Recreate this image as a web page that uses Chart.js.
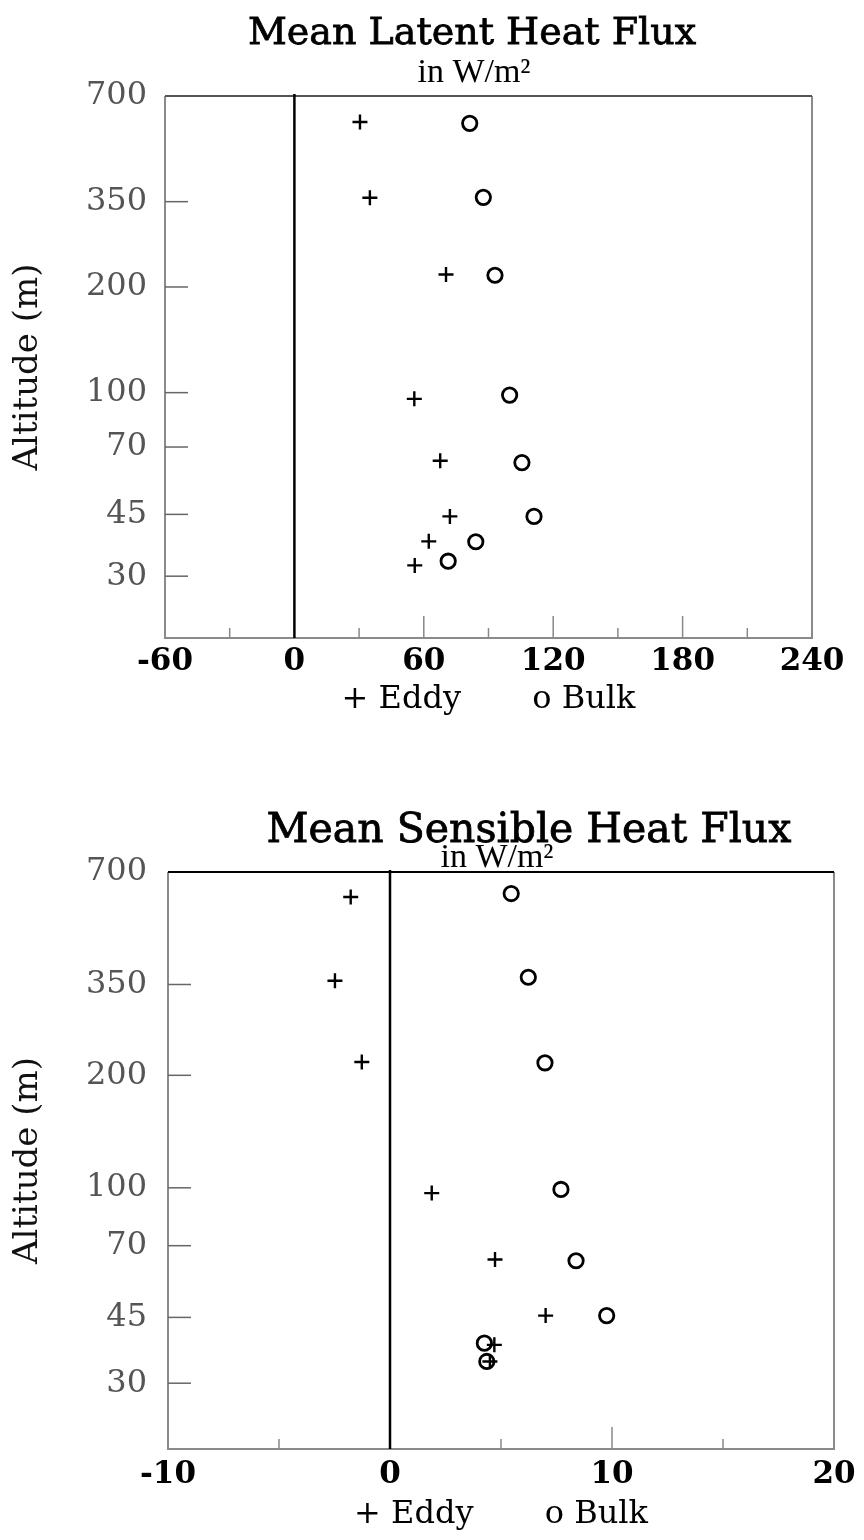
<!DOCTYPE html>
<html><head><meta charset="utf-8">
<script src="https://cdn.jsdelivr.net/npm/chart.js@4.4.1/dist/chart.umd.min.js"></script>
<style>
html,body{margin:0;padding:0;background:#fff;overflow:hidden;}
#wrap{position:relative;width:864px;height:1540px;background:#fff;}
canvas{position:absolute;left:0;}
#c1{top:0;} #c2{top:740px;}
</style></head><body>
<div id="wrap">
<canvas id="c1" width="864" height="740"></canvas>
<canvas id="c2" width="864" height="800"></canvas>
</div>
<script>
// ---- tick labels ----
const altitudeTicks = [30, 45, 70, 100, 200, 350, 700];
const latentFluxTicks = [-60, 0, 60, 120, 180, 240];
const latentMinorTicks = [-30, 30, 90, 150, 210];
const sensibleFluxTicks = [-10, 0, 10, 20];
const sensibleMinorTicks = [-5, 5, 15];

// ---- Mean Latent Heat Flux (W/m2) ----
const latentEddyAlt  = [590, 359, 217, 96, 64, 44.4, 37.7, 32.2];
const latentEddyFlux = [30.4, 35.0, 70.3, 55.6, 67.6, 72.1, 62.3, 55.8];
const latentBulkAlt  = [585, 360, 216, 98.4, 63.2, 44.4, 37.6, 33.1];
const latentBulkFlux = [81.3, 87.6, 93.0, 99.8, 105.5, 111.1, 84.1, 71.3];

// ---- Mean Sensible Heat Flux (W/m2) ----
const sensibleEddyAlt  = [600, 358, 217, 96.8, 64.3, 45.5, 38.0, 34.3];
const sensibleEddyFlux = [-1.77, -2.48, -1.27, 1.88, 4.73, 7.01, 4.70, 4.50];
const sensibleBulkAlt  = [613, 366, 216, 99, 63.8, 45.5, 38.4, 34.3];
const sensibleBulkFlux = [5.46, 6.23, 6.98, 7.70, 8.38, 9.76, 4.25, 4.36];

Chart.defaults.font.family = "'DejaVu Serif', serif";
Chart.defaults.color = '#000';

const toPts = (xs, ys) => xs.map((x, i) => ({x: x, y: ys[i]}));

const decor = {
  id: 'decor',
  beforeDatasetsDraw(chart, args, o) {
    const ctx = chart.ctx, a = chart.chartArea;
    const xs = chart.scales.x, ys = chart.scales.y;
    ctx.save();
    // frame
    ctx.lineWidth = 2;
    ctx.strokeStyle = '#8a8a8a';
    ctx.beginPath();
    ctx.moveTo(a.left, a.top); ctx.lineTo(a.left, a.bottom);
    ctx.lineTo(a.right, a.bottom); ctx.lineTo(a.right, a.top);
    ctx.stroke();
    ctx.strokeStyle = o.topColor;
    ctx.beginPath(); ctx.moveTo(a.left, a.top); ctx.lineTo(a.right, a.top); ctx.stroke();
    // inward y ticks
    ctx.strokeStyle = '#666'; ctx.lineWidth = 1.5;
    altitudeTicks.forEach(v => {
      if (v >= ys.max) return;
      const y = ys.getPixelForValue(v);
      ctx.beginPath(); ctx.moveTo(a.left, y); ctx.lineTo(a.left + 23, y); ctx.stroke();
    });
    // inward x ticks
    ctx.strokeStyle = '#888';
    o.minor.forEach(v => {
      const x = xs.getPixelForValue(v);
      ctx.beginPath(); ctx.moveTo(x, a.bottom); ctx.lineTo(x, a.bottom - 10); ctx.stroke();
    });
    o.major.forEach(v => {
      if (v <= xs.min || v >= xs.max || v === 0) return;
      const x = xs.getPixelForValue(v);
      ctx.beginPath(); ctx.moveTo(x, a.bottom); ctx.lineTo(x, a.bottom - 22); ctx.stroke();
    });
    // zero line
    const x0 = xs.getPixelForValue(0);
    ctx.strokeStyle = '#000'; ctx.lineWidth = 2.5;
    ctx.beginPath(); ctx.moveTo(x0, a.top - 2); ctx.lineTo(x0, a.bottom); ctx.stroke();
    ctx.restore();
  },
  afterDraw(chart, args, o) {
    const ctx = chart.ctx;
    ctx.save();
    ctx.fillStyle = '#000';
    ctx.strokeStyle = '#000';
    ctx.textAlign = 'center';
    ctx.textBaseline = 'alphabetic';
    ctx.font = o.titleSize + "px 'DejaVu Serif'";
    ctx.fillText(o.title, o.titleX, o.titleY);
    ctx.lineWidth = 0.8;
    ctx.strokeText(o.title, o.titleX, o.titleY);
    ctx.font = o.subSize + "px 'Liberation Serif'";
    ctx.fillText('in W/m\u00B2', o.subX, o.subY);
    ctx.restore();
  }
};

function makeChart(id, cfg) {
  return new Chart(document.getElementById(id), {
    type: 'scatter',
    data: {
      datasets: [
        { label: 'Eddy', data: toPts(cfg.eddyX, cfg.eddyY), pointStyle: 'cross',
          pointRadius: 7.5, pointBorderWidth: 2.4, borderColor: '#000', backgroundColor: '#000' },
        { label: 'Bulk', data: toPts(cfg.bulkX, cfg.bulkY), pointStyle: 'circle',
          pointRadius: 7.2, pointBorderWidth: 2.8, borderColor: '#000', backgroundColor: 'rgba(0,0,0,0)' }
      ]
    },
    options: {
      responsive: false, animation: false, devicePixelRatio: 1,
      layout: { padding: { top: cfg.padTop, right: cfg.padRight, left: 0, bottom: 0 } },
      plugins: {
        legend: { display: false }, tooltip: { enabled: false }, title: { display: false },
        decor: { title: cfg.title, titleX: cfg.titleX, titleY: cfg.titleY, titleSize: cfg.titleSize,
                 subX: cfg.subX, subY: cfg.subY, subSize: 34, minor: cfg.minor, major: cfg.xTicks,
                 topColor: cfg.topColor }
      },
      scales: {
        x: {
          type: 'linear', min: cfg.xTicks[0], max: cfg.xTicks[cfg.xTicks.length - 1],
          afterBuildTicks: s => { s.ticks = cfg.xTicks.map(v => ({ value: v })); },
          afterFit: s => { s.height = cfg.xHeight; },
          grid: { display: false, drawTicks: false }, border: { display: false },
          ticks: { autoSkip: false, maxRotation: 0, padding: cfg.xPad, color: '#000',
                   font: { size: 31, weight: 'bold' }, callback: v => String(v) },
          title: { display: true, text: '+ Eddy       o Bulk', color: '#000',
                   font: { size: 32 }, padding: { top: 0, bottom: cfg.legendPad } }
        },
        y: {
          type: 'logarithmic', min: 20, max: 700,
          afterBuildTicks: s => { s.ticks = altitudeTicks.map(v => ({ value: v })); },
          afterFit: s => { s.width = cfg.yWidth; },
          grid: { display: false, drawTicks: false }, border: { display: false },
          ticks: { autoSkip: false, padding: cfg.yPad, color: '#555',
                   font: { size: 32 }, callback: v => String(v) },
          title: { display: true, text: 'Altitude (m)', color: '#111',
                   font: { size: 34 }, padding: { top: 8, bottom: 0 } }
        }
      }
    },
    plugins: [decor]
  });
}

makeChart('c1', {
  eddyX: latentEddyFlux, eddyY: latentEddyAlt, bulkX: latentBulkFlux, bulkY: latentBulkAlt,
  xTicks: latentFluxTicks, minor: latentMinorTicks,
  padTop: 96, padRight: 52, yWidth: 165, xHeight: 102, xPad: 5, legendPad: 21, yPad: 18,
  title: 'Mean Latent Heat Flux', titleX: 472, titleY: 44, titleSize: 38,
  subX: 474, subY: 82, topColor: '#555'
});

makeChart('c2', {
  eddyX: sensibleEddyFlux, eddyY: sensibleEddyAlt, bulkX: sensibleBulkFlux, bulkY: sensibleBulkAlt,
  xTicks: sensibleFluxTicks, minor: sensibleMinorTicks,
  padTop: 132, padRight: 30, yWidth: 168, xHeight: 91, xPad: 7, legendPad: 6, yPad: 21,
  title: 'Mean Sensible Heat Flux', titleX: 529, titleY: 102, titleSize: 41,
  subX: 497, subY: 127, topColor: '#000'
});
</script>
</body></html>
